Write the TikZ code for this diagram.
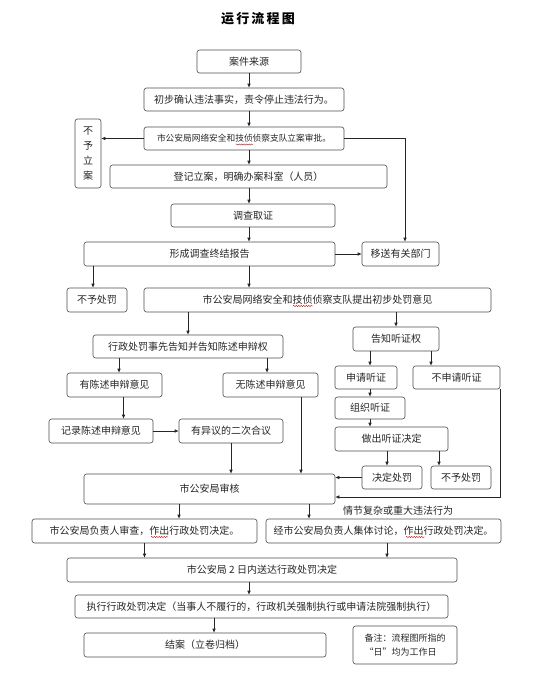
\documentclass[tikz,border=0pt]{standalone}
\usepackage{fontspec}
\setmainfont{Noto Sans CJK SC}
\usetikzlibrary{arrows.meta,decorations.pathmorphing}

\begin{document}
\begin{tikzpicture}[x=1pt,y=-1pt,
        box/.style={draw=black!70, rounded corners=2.5pt, line width=0.6pt, inner sep=0pt, text=black!85, font=\fontsize{10}{12}\selectfont},
        arr/.style={draw=black!85, line width=0.6pt, -{Latex[length=4pt,width=3.6pt]}},
        wavy/.style={draw=red!80!black, line width=0.4pt, decorate, decoration={snake, amplitude=0.6pt, segment length=2.5pt}}]

        \useasboundingbox (0,0) rectangle (536,681);

        \node[name=title, font=\fontsize{13}{15}\selectfont\bfseries] at (258,19) {运\,行\,流\,程\,图};

        % main column
        \node[name=src, box, minimum width=104pt, minimum height=23pt] at (249,61.5) {案件来源};
        \node[name=confirm, box, minimum width=200pt, minimum height=23pt] at (244,99.5) {初步确认违法事实，责令停止违法行为。};
        \node[name=approve, box, minimum width=200pt, minimum height=23pt, font=\fontsize{8.7}{10}\selectfont] at (244,138.5) {市公安局网络安全和技侦侦察支队立案审批。};
        \node[name=nocase, box, minimum width=26pt, minimum height=69pt, align=center, font=\fontsize{10}{15}\selectfont] at (88,153.5) {不\\予\\立\\案};
        \node[name=register, box, minimum width=277pt, minimum height=23pt] at (248.5,176.5) {登记立案，明确办案科室（人员）};
        \node[name=invest, box, minimum width=164pt, minimum height=23pt] at (253,215.5) {调查取证};
        \node[name=report, box, minimum width=251pt, minimum height=24pt] at (209.5,254) {形成调查终结报告};
        \node[name=transfer, box, minimum width=77pt, minimum height=24pt] at (400.5,254) {移送有关部门};
        \node[name=nopen, box, minimum width=60pt, minimum height=24pt] at (97,300) {不予处罚};
        \node[name=propose, box, minimum width=347pt, minimum height=24pt] at (317.5,300) {市公安局网络安全和技侦侦察支队提出初步处罚意见};

        % statement branch
        \node[name=notify, box, minimum width=190pt, minimum height=23pt] at (188,346.5) {行政处罚事先告知并告知陈述申辩权};
        \node[name=hasop, box, minimum width=95pt, minimum height=24pt] at (114.5,385) {有陈述申辩意见};
        \node[name=noop, box, minimum width=95pt, minimum height=24pt] at (270.5,385) {无陈述申辩意见};
        \node[name=record, box, minimum width=104pt, minimum height=24pt] at (101,431) {记录陈述申辩意见};
        \node[name=recheck, box, minimum width=104pt, minimum height=24pt] at (231,431) {有异议的二次合议};

        % hearing branch
        \node[name=hearright, box, minimum width=86pt, minimum height=24pt] at (396,339) {告知听证权};
        \node[name=applyh, box, minimum width=62pt, minimum height=23pt] at (366,377.5) {申请听证};
        \node[name=noapplyh, box, minimum width=87pt, minimum height=23pt] at (456.5,377.5) {不申请听证};
        \node[name=orgh, box, minimum width=70pt, minimum height=22pt] at (370,408) {组织听证};
        \node[name=heardec, box, minimum width=113pt, minimum height=24pt] at (391.5,439) {做出听证决定};
        \node[name=decpen, box, minimum width=60pt, minimum height=23pt] at (392,477.5) {决定处罚};
        \node[name=nopentwo, box, minimum width=60pt, minimum height=23pt] at (461,477.5) {不予处罚};

        % decision
        \node[name=review, box, minimum width=251pt, minimum height=30pt] at (209.5,489) {市公安局审核};
        \node[name=headrev, box, minimum width=225pt, minimum height=24pt] at (144.5,531) {市公安局负责人审查，作出行政处罚决定。};
        \node[name=grouprev, box, minimum width=235pt, minimum height=24pt] at (383.5,531) {经市公安局负责人集体讨论，作出行政处罚决定。};
        \node[name=complex, font=\fontsize{10}{12}\selectfont, text=black!85] at (398,511) {情节复杂或重大违法行为};
        \node[name=deliver, box, minimum width=390pt, minimum height=24pt] at (262,570) {市公安局 2 日内送达行政处罚决定};
        \node[name=execute, box, minimum width=373pt, minimum height=23pt] at (261.5,606.5) {执行行政处罚决定（当事人不履行的，行政机关强制执行或申请法院强制执行）};
        \node[name=close, box, minimum width=242pt, minimum height=24pt] at (205,645) {结案（立卷归档）};
        \node[name=note, box, minimum width=104pt, minimum height=38pt, align=left, font=\fontsize{9}{14}\selectfont] at (405,645) {备注：流程图所指的\\“日”均为工作日};

        % connectors
        \draw[arr] (src.south) -- (src.south |- confirm.north);
        \draw[arr] (confirm.south -| src) -- (approve.north -| src);
        \draw[arr] (approve.south -| src) -- (register.north -| src);
        \draw[arr] (register.south -| src) -- (invest.north -| src);
        \draw[arr] (invest.south -| src) -- (report.north -| src);
        \draw[arr] (approve.west) -- (approve.west -| nocase.east);
        \draw[arr] (approve.east) -| ([xshift=4.5pt]transfer.north);
        \draw[arr] (report.east) -- (transfer.west);
        \draw[arr] ([xshift=-4pt]nopen.north |- report.south) -- ([xshift=-4pt]nopen.north);
        \draw[arr] (report.south -| src) -- (propose.north -| src);
        \draw[arr] (notify.north |- propose.south) -- (notify.north);
        \draw[arr] (hearright.north |- propose.south) -- (hearright.north);
        \draw[arr] ([xshift=4.5pt]hasop.north |- notify.south) -- ([xshift=4.5pt]hasop.north);
        \draw[arr] ([xshift=-3.5pt]noop.north |- notify.south) -- ([xshift=-3.5pt]noop.north);
        \draw[arr] ([xshift=4pt]applyh.north |- hearright.south) -- ([xshift=4pt]applyh.north);
        \draw[arr] ([xshift=-25.5pt]noapplyh.north |- hearright.south) -- ([xshift=-25.5pt]noapplyh.north);
        \draw[arr] (orgh.north |- applyh.south) -- (orgh.north);
        \draw[arr] (orgh.south) -- (orgh.south |- heardec.north);
        \draw[arr] ([xshift=9pt]hasop.south) -- ([xshift=9pt]hasop.south |- record.north);
        \draw[arr] (record.east) -- (recheck.west);
        \draw[arr] ([xshift=-5pt]decpen.north |- heardec.south) -- ([xshift=-5pt]decpen.north);
        \draw[arr] ([xshift=-22pt]nopentwo.north |- heardec.south) -- ([xshift=-22pt]nopentwo.north);
        \draw[arr] (recheck.south) -- (recheck.south |- review.north);
        \draw[arr] ([xshift=30.5pt]noop.south) -- ([xshift=30.5pt]noop.south |- review.north);
        \draw[arr] (decpen.west) -- (decpen.west -| review.east);
        \draw[arr] (noapplyh.south east) |- ([yshift=-8pt]review.east);
        \draw[arr] ([xshift=34.5pt]headrev.north |- review.south) -- ([xshift=34.5pt]headrev.north);
        \draw[arr] ([xshift=-74.5pt]grouprev.north |- review.south) -- ([xshift=-74.5pt]grouprev.north);
        \draw[arr] (headrev.south) -- (headrev.south |- deliver.north);
        \draw[arr] ([xshift=3.5pt]grouprev.south) -- ([xshift=3.5pt]grouprev.south |- deliver.north);
        \draw[arr] (deliver.south -| src) -- (execute.north -| src);
        \draw[arr] ([xshift=9pt]close.north |- execute.south) -- ([xshift=9pt]close.north);

        % spell-check marks
        \draw[wavy] (236,144.5) -- (253,144.5);
        \draw[wavy] (293,306) -- (313,306);
        \draw[wavy] (151,537) -- (168,537);
        \draw[wavy] (406,537) -- (425,537);
    \end{tikzpicture}
\end{document}
